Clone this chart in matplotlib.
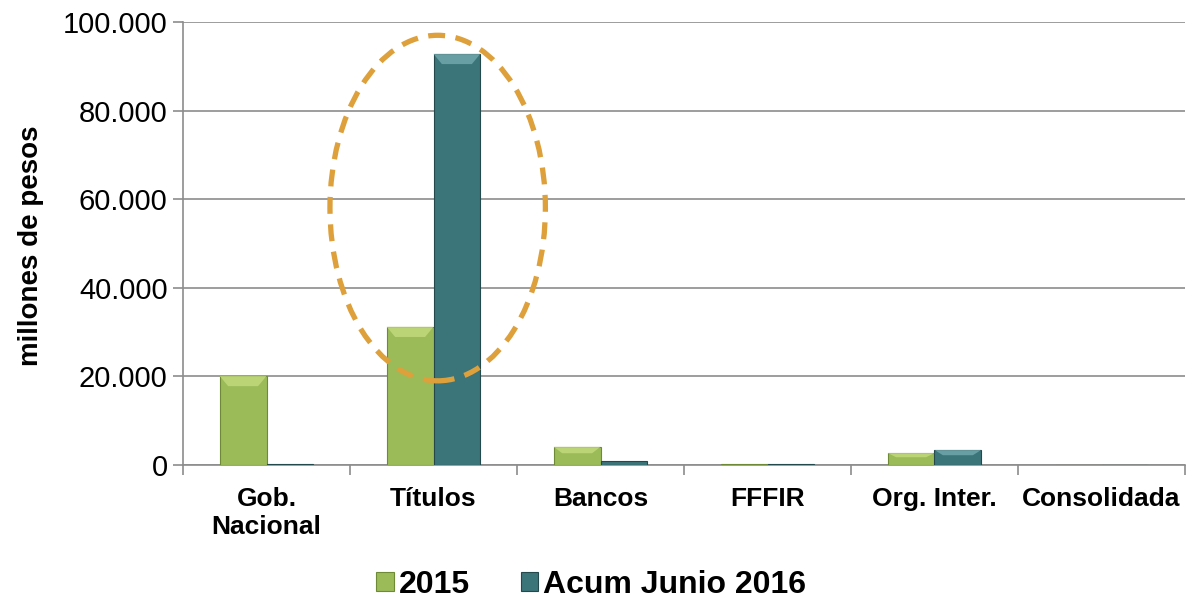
import numpy as np
import matplotlib
matplotlib.use("Agg")
import matplotlib.pyplot as plt
import matplotlib.patches as patches
from matplotlib.ticker import FuncFormatter, MultipleLocator

plt.rcParams['font.family'] = ['Liberation Sans', 'DejaVu Sans']

categories = ["Gob.\nNacional", "Títulos", "Bancos", "FFFIR", "Org. Inter.", "Consolidada"]
values_2015 = [20100, 31200, 4100, 300, 2700, 100]
values_2016 = [150, 92800, 900, 300, 3400, 0]
series_names = ["2015", "Acum Junio 2016"]

green = "#9BBB59"
green_edge = "#6E8A35"
teal = "#3B7479"
teal_edge = "#23494D"
grid_color = "#8C8C8C"

fig = plt.figure(figsize=(11.89, 6.02), dpi=100)
ax = fig.add_axes([183 / 1189, 1 - 465 / 602, (1185 - 183) / 1189, (465 - 22) / 602])

x = np.arange(len(categories))
w = 0.28
b1 = ax.bar(x - w / 2, values_2015, w, color=green, edgecolor=green_edge, linewidth=0.8,
            label=series_names[0], zorder=3)
b2 = ax.bar(x + w / 2, values_2016, w, color=teal, edgecolor=teal_edge, linewidth=0.8,
            label=series_names[1], zorder=3)

# bevel on top of each bar (light trapezoid)
for bars, light in ((b1, "#C6DE80"), (b2, "#77AEB4")):
    for r in bars:
        h = r.get_height()
        if h < 1500:
            continue
        bh = min(2300, h * 0.35)
        x0, bw = r.get_x(), r.get_width()
        inset = bw * 0.18
        poly = [(x0, h), (x0 + bw, h), (x0 + bw - inset, h - bh), (x0 + inset, h - bh)]
        ax.add_patch(patches.Polygon(poly, closed=True, facecolor=light, edgecolor="none",
                                     alpha=0.75, zorder=4))

ax.set_xlim(-0.5, len(categories) - 0.5)
ax.set_ylim(0, 100000)
ax.yaxis.set_major_locator(MultipleLocator(20000))
ax.yaxis.set_major_formatter(FuncFormatter(lambda v, p: f"{int(v):,}".replace(",", ".")))
ax.grid(axis="y", color=grid_color, linewidth=1.2, zorder=0)
ax.set_axisbelow(True)

ax.set_xticks(x)
ax.set_xticklabels(categories, fontsize=19, fontweight="bold", linespacing=1.2)
ax.set_xticks(np.arange(-0.5, len(categories)), minor=True)
ax.tick_params(axis="x", which="major", length=0, pad=16)
ax.tick_params(axis="x", which="minor", length=7, color=grid_color, width=1.2)
ax.tick_params(axis="y", labelsize=21, length=7, color=grid_color, width=1.2, pad=4)

for s in ("top", "right"):
    ax.spines[s].set_visible(False)
for s in ("left", "bottom"):
    ax.spines[s].set_color(grid_color)
    ax.spines[s].set_linewidth(1.2)

ax.set_ylabel("millones de pesos", fontsize=20, fontweight="bold")
ax.yaxis.set_label_coords(-0.139, 0.495)

ell = patches.Ellipse((1.025, 58000), 1.29, 78000, fill=False, edgecolor="#DDA03A",
                      linewidth=3.8, linestyle=(0, (3.2, 2.0)), zorder=5, clip_on=False)
ax.add_patch(ell)

leg = fig.legend(handles=[b1, b2], labels=series_names, loc="center",
                 bbox_to_anchor=(591 / 1189, 1 - 585 / 602), ncol=2, frameon=False,
                 prop={"size": 23, "weight": "bold"}, handlelength=0.55, handleheight=0.55,
                 handletextpad=0.15, columnspacing=1.6)

fig.savefig("out.png", dpi=100)
